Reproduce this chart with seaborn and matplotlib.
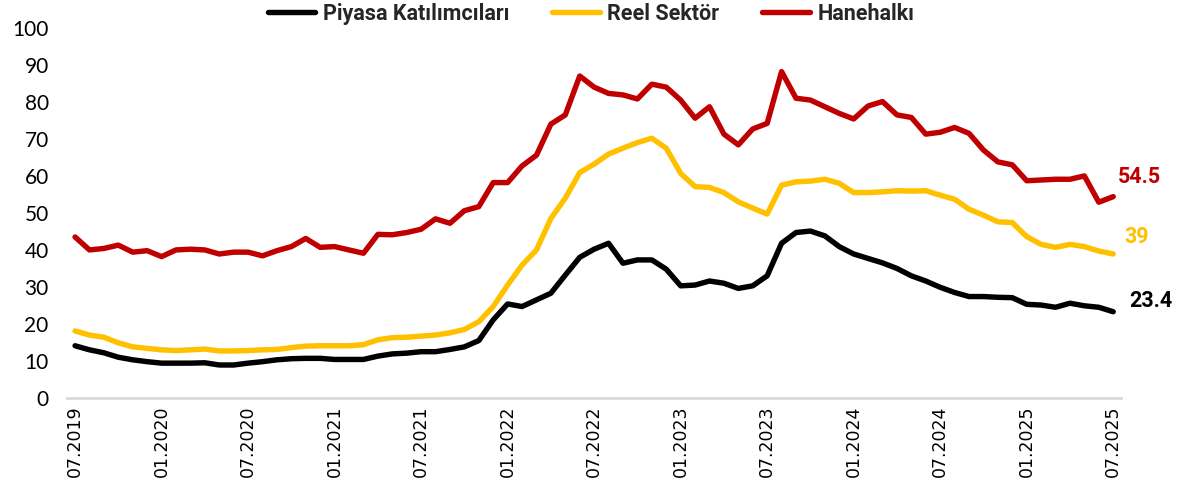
import pandas as pd
import numpy as np
import matplotlib
matplotlib.use("Agg")
import matplotlib.pyplot as plt
import seaborn as sns

# aylık seriler, 07.2019 - 07.2025
aylar = pd.date_range("2019-07-01", "2025-07-01", freq="MS").strftime("%m.%Y").tolist()

piyasa = [14.2, 13.1, 12.3, 11.1, 10.4, 9.9, 9.5, 9.5, 9.5, 9.6, 9.0, 9.0, 9.5, 9.9, 10.4, 10.7,
          10.8, 10.8, 10.5, 10.5, 10.5, 11.4, 12.0, 12.2, 12.6, 12.6, 13.2, 13.9, 15.6, 21.2, 25.5,
          24.8, 26.6, 28.4, 33.3, 38.1, 40.3, 41.9, 36.5, 37.4, 37.4, 34.9, 30.4, 30.6, 31.7, 31.1,
          29.7, 30.4, 33.1, 41.9, 44.8, 45.2, 43.9, 41.0, 39.0, 37.8, 36.6, 35.1, 33.1, 31.7, 30.0,
          28.6, 27.5, 27.5, 27.3, 27.2, 25.4, 25.2, 24.6, 25.7, 25.0, 24.6, 23.4]
reel = [18.2, 17.1, 16.5, 15.0, 13.9, 13.5, 13.1, 12.9, 13.1, 13.3, 12.8, 12.8, 12.9, 13.1, 13.2,
        13.7, 14.1, 14.2, 14.2, 14.2, 14.5, 15.8, 16.4, 16.5, 16.8, 17.1, 17.7, 18.6, 20.7, 24.8,
        30.6, 36.0, 40.1, 48.6, 54.1, 61.0, 63.3, 66.0, 67.6, 69.1, 70.3, 67.6, 60.8, 57.2, 57.0,
        55.6, 53.1, 51.4, 49.8, 57.6, 58.5, 58.7, 59.2, 58.1, 55.6, 55.6, 55.8, 56.1, 56.0, 56.1,
        54.9, 53.8, 51.1, 49.5, 47.7, 47.5, 43.7, 41.6, 40.8, 41.6, 41.0, 39.8, 39.0]
hane = [43.6, 40.1, 40.5, 41.4, 39.5, 39.9, 38.3, 40.1, 40.3, 40.1, 39.0, 39.5, 39.5, 38.5, 39.9,
        41.0, 43.2, 40.8, 41.0, 40.1, 39.2, 44.3, 44.2, 44.8, 45.7, 48.5, 47.3, 50.7, 51.8, 58.3,
        58.3, 62.8, 65.7, 74.1, 76.6, 87.1, 84.1, 82.4, 82.0, 80.9, 84.9, 84.1, 80.6, 75.7, 78.8,
        71.4, 68.5, 72.8, 74.3, 88.3, 81.1, 80.6, 78.8, 77.0, 75.5, 79.0, 80.2, 76.6, 75.9, 71.4,
        71.9, 73.2, 71.6, 67.1, 63.9, 63.1, 58.8, 59.0, 59.2, 59.2, 60.1, 53.0, 54.5]

seri_adlari = ["Piyasa Katılımcıları", "Reel Sektör", "Hanehalkı"]
renkler = {"Piyasa Katılımcıları": "#000000", "Reel Sektör": "#FFC000", "Hanehalkı": "#C00000"}
son_etiketler = ["23.4", "39", "54.5"]

df = pd.DataFrame({"ay": aylar, "Piyasa Katılımcıları": piyasa, "Reel Sektör": reel, "Hanehalkı": hane})
df["x"] = np.arange(len(df))
uzun = df.melt(id_vars=["ay", "x"], value_vars=seri_adlari, var_name="seri", value_name="deger")

sns.set_theme(style="white")
plt.rcParams["font.family"] = ["Lato", "DejaVu Sans"]

fig, ax = plt.subplots(figsize=(11.84, 4.99), dpi=100)
fig.subplots_adjust(left=66.7 / 1184, right=1121 / 1184, bottom=1 - 398.3 / 499, top=1 - 28.3 / 499)

sns.lineplot(data=uzun, x="x", y="deger", hue="seri", hue_order=seri_adlari, palette=renkler,
             linewidth=3.9, ax=ax, solid_capstyle="round", solid_joinstyle="round")

ax.set_xlim(-0.58, 72.54)
ax.set_ylim(0, 100)
ax.set_yticks(range(0, 101, 10))
ax.tick_params(axis="y", labelsize=15, length=0, pad=13, colors="#000000")
ax.set_xticks(df["x"][::6])
ax.set_xticklabels(df["ay"][::6], rotation=90, fontsize=12.5, family="DejaVu Sans", color="#000000")
ax.tick_params(axis="x", length=0, pad=5)
ax.set_xlabel("")
ax.set_ylabel("")
for s in ["top", "right", "left"]:
    ax.spines[s].set_visible(False)
ax.spines["bottom"].set_color("#D9D9D9")
ax.spines["bottom"].set_linewidth(2)

# son değer etiketleri
ofsetler = {"Piyasa Katılımcıları": (38, 11), "Reel Sektör": (23, 17), "Hanehalkı": (26, 20)}
for ad, etiket in zip(seri_adlari, son_etiketler):
    ax.annotate(etiket, xy=(df["x"].iloc[-1], df[ad].iloc[-1]), xytext=ofsetler[ad],
                textcoords="offset pixels", ha="center", va="center", family=["Roboto", "DejaVu Sans"],
                fontsize=15.5, fontweight="bold", color=renkler[ad])

h, l = ax.get_legend_handles_labels()
ax.get_legend().remove()
fig.legend(h, l, loc="center", bbox_to_anchor=(591 / 1184, 1 - 14 / 499), ncol=3, frameon=False,
           prop={"weight": "bold", "size": 15.5, "family": ["Roboto", "DejaVu Sans"]},
           handlelength=2.2, handletextpad=0.35, columnspacing=2.0)

fig.savefig("out.png", dpi=100)
